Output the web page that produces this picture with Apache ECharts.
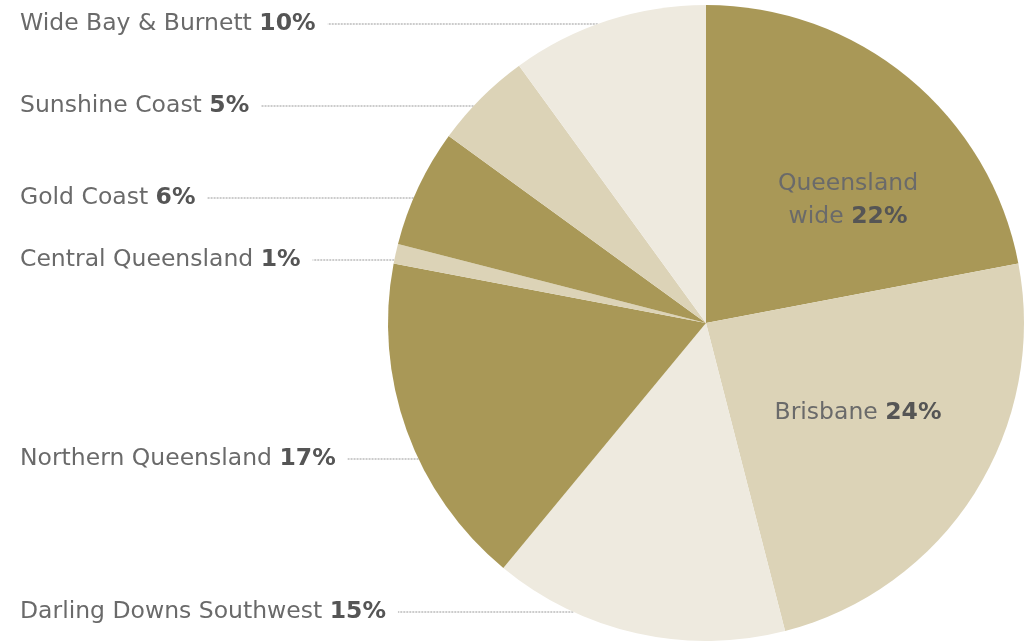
<!DOCTYPE html>
<html>
<head>
<meta charset="utf-8">
<style>
  html, body { margin: 0; padding: 0; background: #fff; }
  #main { width: 1028px; height: 641px; }
</style>
<script src="https://cdn.jsdelivr.net/npm/echarts@6/dist/echarts.min.js"></script>
</head>
<body>
<div id="main"></div>
<script>
// regions, clockwise from 12 o'clock
var regions = [
  'Queensland wide', 'Brisbane', 'Darling Downs Southwest', 'Northern Queensland',
  'Central Queensland', 'Gold Coast', 'Sunshine Coast', 'Wide Bay & Burnett'
]
var shares = [22, 24, 15, 17, 1, 6, 5, 10]

var palette = ['#a99857', '#dcd3b7', '#eeeadf', '#a99857', '#dcd3b7', '#a99857', '#dcd3b7', '#eeeadf']

// pie geometry
var cx = 706
var cy = 323
var radius = 318

// where each label sits (left column labels are left aligned at x = 20)
var labelSpots = [
  [848, 200, 'center'], [858, 413, 'center'], [20, 612, 'left'], [20, 459, 'left'],
  [20, 260, 'left'], [20, 198, 'left'], [20, 106, 'left'], [20, 24, 'left']
]

var chart = echarts.init(document.getElementById('main'))

chart.setOption({
  animation: false,
  series: [
    {
      type: 'pie',
      center: [cx, cy],
      radius: radius,
      startAngle: 90,
      clockwise: true,
      silent: true,
      itemStyle: { borderWidth: 0 },
      label: {
        show: true,
        position: 'outside',
        fontFamily: 'DejaVu Sans',
        formatter: function(p) {
          var pct = '{p|' + p.value + '%}'
          if (p.dataIndex === 0) {
            var w = p.name.split(' ')
            return '{n|' + w[0] + '}\n{n|' + w[1] + ' }' + pct
          }
          return '{n|' + p.name + ' }' + pct
        },
        rich: {
          n: { fontFamily: 'DejaVu Sans', fontSize: 23.5, color: '#6a6a6a', lineHeight: 33 },
          p: { fontFamily: 'DejaVu Sans', fontSize: 23.5, color: '#555', fontWeight: 'bold', lineHeight: 33 }
        }
      },
      labelLine: {
        show: true,
        lineStyle: { color: '#999', width: 1, type: [2, 1] }
      },
      labelLayout: function(params) {
        var s = labelSpots[params.dataIndex]
        var out = { x: s[0], y: s[1], align: s[2], verticalAlign: 'middle' }
        if (s[2] === 'left') {
          var x0 = s[0] + params.labelRect.width + 12
          var dy = s[1] - cy
          var x1 = cx - Math.sqrt(radius * radius - dy * dy)
          out.labelLinePoints = [[x1, s[1]], [x0, s[1]], [x0, s[1]]]
        }
        return out
      },
      data: regions.map(function(name, i) {
        var item = { name: name, value: shares[i], itemStyle: { color: palette[i] } }
        if (i < 2) {
          item.label = { position: 'inside' }
          item.labelLine = { show: false }
        }
        return item
      })
    }
  ]
})
</script>
</body>
</html>
